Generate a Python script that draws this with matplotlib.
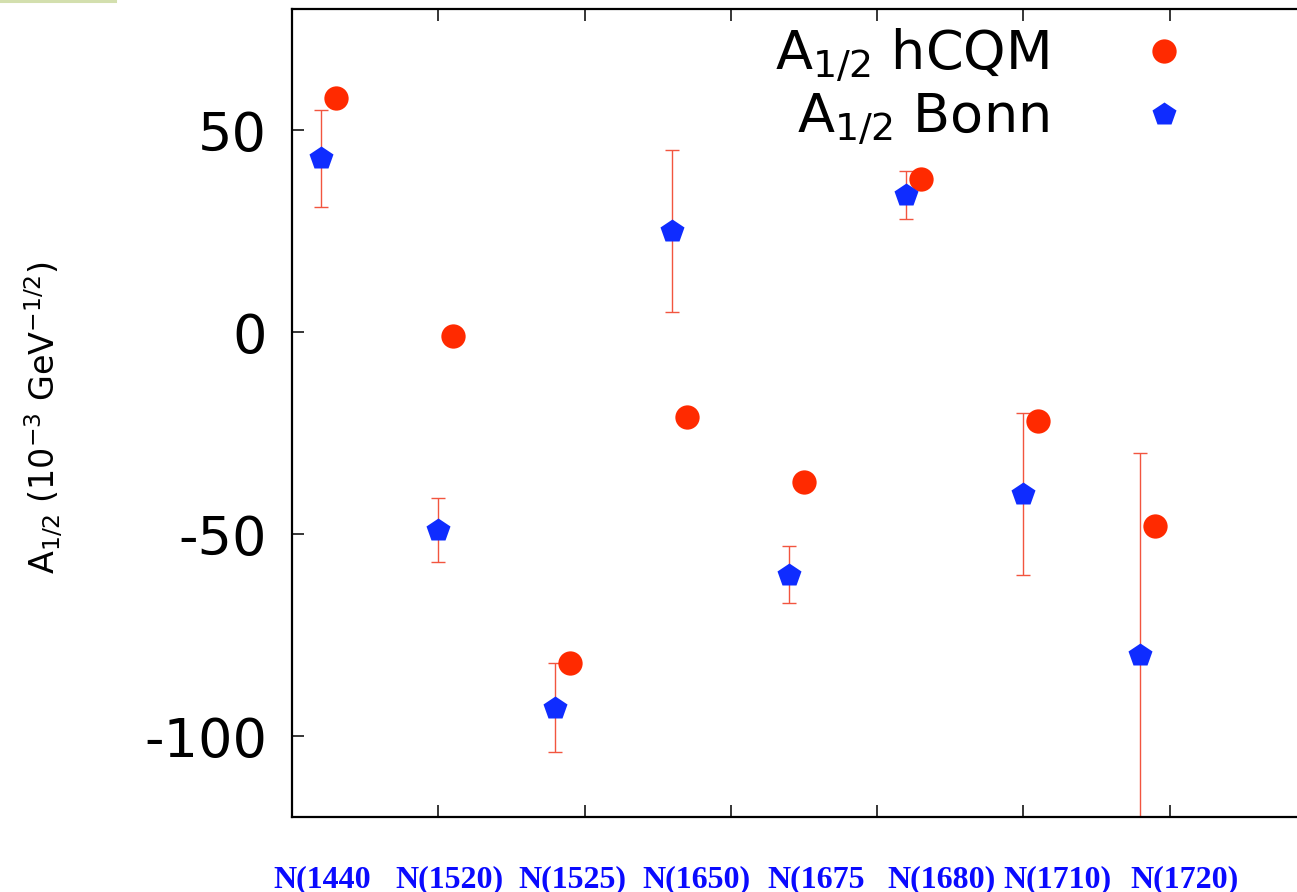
import numpy as np
import matplotlib
matplotlib.use("Agg")
import matplotlib.pyplot as plt
from matplotlib.lines import Line2D
import matplotlib.transforms as mtransforms

plt.rcParams["font.family"] = ["DejaVu Sans"]
plt.rcParams["mathtext.fontset"] = "dejavusans"

# resonances and helicity amplitudes A_1/2 (10^-3 GeV^-1/2)
states = ["N(1440", "N(1520)", "N(1525)", "N(1650)", "N(1675", "N(1680)", "N(1710)", "N(1720)"]
a12_hcqm = [58, -1, -82, -21, -37, 38, -22, -48]
a12_bonn = [43, -49, -93, 25, -60, 34, -40, -80]
a12_bonn_err = [12, 8, 11, 20, 7, 6, 20, 50]

# layout
pos = 0.2 + 0.8 * np.arange(len(states))
label_x = [-0.13, 0.705, 1.548, 2.397, 3.247, 4.07, 4.86, 5.73]

red = "#ff2a00"
blue = "#0f2cff"

fig = plt.figure(figsize=(12.97, 8.92), dpi=100)
ax = fig.add_axes([0.2251, 0.0841, 0.7895, 0.9058])

ax.errorbar(pos, a12_bonn, yerr=a12_bonn_err, fmt="none", ecolor="#f2553f",
            elinewidth=1.0, capsize=4.7, capthick=1.0, zorder=2)
ax.plot(pos + 0.1, a12_hcqm, "o", color=red, ms=17.5, mec="none",
        label=r"A$_{1/2}$ hCQM", zorder=3)
ax.plot(pos, a12_bonn, "p", color=blue, ms=18, mec="none",
        label=r"A$_{1/2}$ Bonn", zorder=4)

ax.set_xlim(0, 7)
ax.set_ylim(-120, 80)
ax.set_xticks(np.arange(0, 8))
ax.set_xticklabels([])
ax.set_yticks([-100, -50, 0, 50])
ax.set_yticklabels(["-100", "-50", "0", "50"])
ax.tick_params(direction="in", length=8.6, width=1.1, top=True, right=True,
               labelsize=39, pad=18, color="black")
for s in ax.spines.values():
    s.set_linewidth(1.6)

ax.set_ylabel(r"A$_{1/2}$ (10$^{-3}$ GeV$^{-1/2}$)", fontsize=24)
ax.yaxis.set_label_coords(-0.222, 0.494)

trans = mtransforms.blended_transform_factory(ax.transData, ax.transAxes)
for x, name in zip(label_x, states):
    ax.text(x, -0.0866, name, transform=trans, ha="left", va="baseline",
            fontsize=23, fontweight="bold", color="#0a0aff",
            family="Liberation Serif")

ax.legend(loc="upper right", bbox_to_anchor=(0.905, 0.978), frameon=False,
          markerfirst=False, fontsize=39, handlelength=2.0, handletextpad=1.14,
          borderpad=0, borderaxespad=0, labelspacing=0.12, numpoints=1)

fig.add_artist(Line2D([0, 0.089], [0.9985, 0.9985], color="#d3dfae", lw=2.2))

fig.savefig("out.png", dpi=100)
